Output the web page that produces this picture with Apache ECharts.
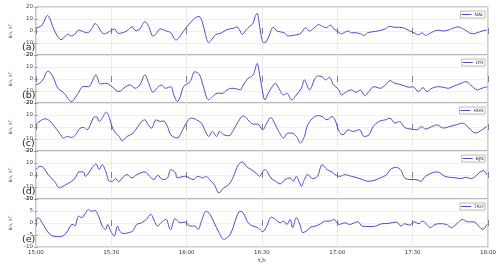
<!DOCTYPE html>
<html><head><meta charset="utf-8">
<script src="https://cdn.jsdelivr.net/npm/echarts@6/dist/echarts.min.js"></script>
<style>html,body{margin:0;padding:0;background:#fff}#c{width:500px;height:266px}</style>
</head><body><div id="c"></div>
<script>
// time in minutes after 15:00 (UT), Bn in nT
const stations = ['NAL','LYR','HOR','BJN','TRO'];
const panelTags = ['(a)','(b)','(c)','(d)','(e)'];
const xTickLabels = ['15:00','15:30','16:00','16:30','17:00','17:30','18:00'];
const yRanges = [[-20,20,10],[-20,20,10],[-20,20,10],[-20,20,10],[-10,10,5]];

const tNAL = [0,2.3,4.6,7.2,8.7,10,11.6,12.8,14.1,15.4,17.1,19,20.5,22.2,23.5,24.8,26,27.3,29.3,31.2,32.9,34.4,36.3,38.3,39.8,41.4,43.4,44.9,46.6,47.9,49.5,51.7,53.7,55.8,57,58.8,61.4,63.3,64.9,66.3,67.5,68.8,70.1,71.6,72.9,74.2,76.1,78.7,80,81.3,82.2,83.4,85.1,86.4,87.3,88.1,88.7,89.6,90.6,91.7,92.8,94.5,96,97.3,98.8,100.5,102.2,104.4,105.7,107.3,108.9,110.8,112.5,114,115.6,117.2,118.7,120.4,121.7,123,124.3,125.6,127.5,129.2,130.7,132,133.9,136.5,139.1,141,142.9,144.8,146.8,148.7,150.6,152.3,153.8,155.1,156.6,158.3,160.2,162.2,164.1,166,168,169.9,171.8,173.7,175.7,177.6,179.5];
const bNAL = [2.6,4.5,12.9,1.2,-4.8,-7.2,-4.7,-2.6,-4.2,-2.8,0.7,-0.7,-1.5,1.9,6.1,3.9,-0.7,-2.3,-0.4,1.7,-2,-1.5,0.2,3.4,0.2,1.7,7.8,3.9,-4.2,-2.3,1.7,0.2,-1.5,-7.5,-5.6,-0.1,6.7,10.8,12.1,7.2,-2.9,-9.6,-6.9,-2.9,-2.3,-1.2,1.2,2.3,3.4,0,-2.9,0,3.9,6.1,12.1,14.8,9.4,-2.9,-9.6,-9,-4.2,3.1,0,-0.7,-1.5,-4.2,-3.7,-2.9,-1.5,2.6,0,2.6,5.3,4,2.6,5,1.7,-0.7,-2.3,-1,0,-1.5,-1.5,-2.3,-3.7,-1.5,-0.7,0.2,1.7,3.9,3.1,3.1,2.3,0.2,-1.5,-3.1,-1.5,-3.7,-2.3,-0.4,0.7,0,0.7,2.3,3.4,2,-0.4,-2.3,-1.5,0,0.7];

const tLYR = [0,2.3,4.9,6.8,8.7,11.3,14.1,16.4,19,20.9,23.9,25.7,27.9,29.9,33.1,35.7,37.6,39.5,41.4,43.4,45,46.6,48.5,49.8,51.7,53.7,54.9,56.4,57.5,58.8,61.4,63.3,65.2,66.5,68.8,70.3,72.3,74.2,76.1,78.1,80,81.3,82.6,84.5,85.8,86.8,88.1,89,89.9,91.2,92.2,93.7,95.4,96.7,98.6,99.9,101.8,103.7,105.7,106.9,108.2,108.9,109.8,110.8,112.1,114,115.3,116.8,118.5,120.4,121.7,123.7,125.6,127.5,129.2,130.9,132.6,134.6,137.1,139.1,141,142.9,144.8,146.8,148.7,150,152.3,154.1,155.7,157.7,160.3,162.8,164.1,166.6,169.2,171.2,173.1,175.7,177.6,179.8];
const bLYR = [-5,-2.2,6.6,1.9,-7.5,-11.9,-18.8,-13.3,-6.2,-6.4,3.3,-4.1,-3.6,-5.8,-10.5,-6.4,-5,-7.7,-5,3.3,-4,-11,-7,-5,-7.7,-6.4,-13.3,-18.8,-14.7,-6.4,-2.2,6.1,3.3,-5,-17.4,-14.7,-11.9,-11.9,-9.1,-7.7,-8.3,-9.1,-5,0.6,1.9,4.7,13,4.7,-6.4,-17.4,-13.3,-7.7,-3.6,-7.7,-13.3,-11.9,-17.4,-13.3,-7.7,-0.8,-6.4,-9.1,-6.4,-0.8,2.5,1.9,-0.8,1.4,-5,-8.3,-13.3,-10.5,-9.1,-11,-9.1,-13.9,-10.5,-6.4,-7.7,-5,-1.4,-3.6,-4.4,-5.8,-6.9,-6.4,-10.5,-7.2,-10.5,-7.7,-6.4,-7.2,-7.7,-5.8,-3.6,-2.2,-5,-9.1,-7.7,-6.4];

const tHOR = [0,1.7,3.6,5.5,7.4,9.4,11,12.6,14.1,15.8,17.7,19,20.3,21.8,22.8,24.1,25.2,26.4,28,29.3,30.5,31.8,33.1,34.4,36.3,38.2,40.2,42.1,43.4,44.7,46,47.9,49.5,50.8,52.4,53.7,56.2,58.8,60.7,62,63.9,65.9,67.5,68.8,70.3,71.9,73.2,74.8,76.8,78.7,80.6,82.5,84.5,86.4,88.3,90.3,91.9,93.5,95,96.7,98.6,100.2,101.8,103.7,105.3,106.9,108.2,110.2,112.1,114,115.9,117.9,119.1,120.7,122.3,124.3,126.2,128.8,130.7,132.6,134.3,136.5,139.1,141,142.9,144.8,146.8,149.3,151.9,153.5,155.1,157.7,159.6,162.2,164.7,167.3,169.9,172.4,175,177.6,179.5];
const bHOR = [1.8,5.1,6.8,5.1,0.4,-5.1,-9.2,-7.9,-8.7,-6.5,-0.9,-0.4,-2.3,2.4,7.4,8.7,4.6,7.4,12.4,7.4,-0.9,-5.1,-7.9,-11.5,-7.9,-5.9,-0.9,4.6,6,1.8,-0.9,6,4.6,5.1,0.4,-6.5,-9.2,-0.9,6,7.4,6,3.2,-3.7,-7.9,-3.7,-7.9,-3.7,-6.5,-7.3,-2.3,4.6,9.3,6,2.4,2.4,-2.3,3.2,7.9,3.2,-3.7,-9.2,-5.1,-5.1,-7.9,-13.4,-7.9,1.8,7.4,9.5,8.7,6,8.7,6,-3.7,-6.5,-2.3,-3.7,-2.3,-7.9,-6.5,0.4,4.6,6,7.4,3.2,4.6,-0.4,-1.7,-2.3,0.4,-1.7,0.4,1.8,-0.9,0.4,1.8,3.2,-0.9,-5.1,-2.3,0.4];

const tBJN = [0,1.7,2.9,4.9,7.4,9.4,11.3,13.2,15.1,16.4,17.1,19,19.6,22.8,23.9,25.2,26.4,27.7,29.3,30.5,31.8,32.9,34.4,36.3,38.2,40.2,43.4,45.3,47,48.5,50.5,52.4,53.7,55.6,56.2,59.5,62.6,64.6,66.5,67.8,69.1,71,72.9,74.8,76.8,78.7,80.6,82.2,83.8,85.7,87.7,89,91.1,92.2,93.5,95.4,97.3,99.2,101.2,102.5,103.7,105,105.7,106.9,108.2,110.2,112.1,114,115.9,117.9,119.1,121.1,123,125.6,128.1,130,132,134.6,137.1,139.7,141,143.5,145.4,146.8,149.3,151.2,153.2,155.1,159.6,160.9,162.8,164.7,167.3,169.2,171.1,173.1,175,176.9,178.2,179.5];
const bBJN = [4.5,7.2,6.4,0.3,-5.2,-10.7,-8.8,-6.6,-3.8,0.3,2.6,2.6,-1.1,7.2,9.2,4.5,8.6,3.7,-5.2,-5.2,-3,-5.7,-2.4,0.3,-2.4,0.3,2.6,-1.1,-3.8,-0.2,-3.8,-2.4,4.5,1.7,-2.4,-1,-3.8,-1.1,-2.4,-1.1,-3.8,-8,-14.9,-10.7,-8,-1.1,8.6,10.9,7.2,4.5,1.5,-1.1,4.5,2.6,-2.4,-5.2,-7.4,-3.8,-2.4,-5.2,-1.1,-6.6,-9.4,-3.8,0.3,-3,-1.1,8.6,4.5,2.6,0.3,-1.1,0.3,-1.1,-2.4,-3.8,-5.2,-4.6,-2.4,0.3,4.5,6.4,3.7,-2.4,-3.8,-3.8,-5.2,-1.1,2.6,1.7,-1.1,-1.9,-2.4,-3,-1.9,-3,-1.1,2.6,3.7,0.3];

const tTRO = [0,0.8,1.7,3.6,5.5,6.8,9.4,11.3,12.6,13.9,14.9,15.5,17.1,18.3,19.6,20.9,22.2,23.5,25.2,26.4,27.7,28.6,29.5,31.2,32.5,33.4,35.1,37,38.5,40.2,42.1,44,45.7,47.2,48.5,49.8,51.7,53.6,55.4,57.5,59.4,61.4,63.3,64.6,65.9,67.8,69.3,71,72.9,74.8,76.1,77.4,78.7,80,81.3,82.5,84.5,86.4,88.3,90.3,91.9,93.7,95.4,97.3,98.6,99.9,101.2,102.2,103.7,105,106.3,107.6,109.5,111.4,113.4,115.3,117.2,118.5,120.8,123,124.9,126.8,128.1,130,132.6,135.2,137.8,140.3,143.5,145.4,146.8,148.7,150.6,152.5,153.8,155.7,157,158.9,160.9,163.4,165.4,167.3,169.9,171.8,174.3,176.3,178,179.5];
const bTRO = [0.8,2.2,1.5,-1.9,-4.7,-5.4,-5.7,-5,-3.4,-0.9,-0.6,-1.3,2.9,2.2,3.9,5.6,4.9,5.2,2.2,-1.3,-2.7,-0.6,-2.7,-5.4,-1.3,-3.4,-4.4,-4,-3.4,-0.6,0.1,1.5,3.6,0.8,-1.3,0.1,1.5,-2.8,1.8,0.1,0.4,-1.3,-1.3,-2.7,0.8,4.9,3.6,0.1,-4,-6.8,-6.1,-4.7,-1.3,2.9,4.9,4.3,0.1,-1.3,-1.9,-3.6,-1.3,2.4,1.5,0.1,0.8,-0.6,1.5,-1.9,2.2,-0.3,-4,-3.4,-1.7,-1.3,-0.3,0.8,0.8,1.5,-0.6,0.1,-0.6,0.1,0.5,-1.3,-1.5,-1.3,-0.3,-0.2,0.4,-1.3,-0.3,-0.9,0.4,-0.3,0.8,-0.6,-1.9,-0.6,-0.3,-0.6,-1.9,-0.6,1.5,0.5,0.5,-1.3,-2.7,-0.6];

const times = [tNAL,tLYR,tHOR,tBJN,tTRO];
const values = [bNAL,bLYR,bHOR,bBJN,bTRO];

const FONT = 'DejaVu Sans';
const tops = [7,55,103,151,199], H = 48, L = 21, R = 12;
const lineColor = '#4b4bd0';

const grid = [], xAxis = [], yAxis = [], series = [], legend = [], graphic = [];
const xTop = [], yRight = [];
tops.forEach((top,i)=>{
  grid.push({left:L,right:R,top:top,height:H,show:true,borderColor:'#a0a0a0',borderWidth:1,backgroundColor:'#fff'});
  xAxis.push({gridIndex:i,type:'value',min:0,max:180,interval:30,position:'bottom',
    axisLine:{show:false},
    axisTick:{show:true,inside:true,length:3,lineStyle:{color:'#666',width:0.8}},
    axisLabel:{show:i===4,fontSize:5.5,color:'#333',fontFamily:FONT,margin:3,
      formatter:v=>xTickLabels[Math.round(v/30)]},
    splitLine:{show:true,lineStyle:{color:'#e6e6e6',width:0.8}},
    name:i===4?'t,h':'',nameLocation:'middle',nameGap:11,
    nameTextStyle:{fontSize:5.5,color:'#333',fontFamily:FONT}});
  xTop.push({gridIndex:i,type:'value',min:0,max:180,interval:30,position:'top',
    axisLine:{show:false},
    axisTick:{show:true,inside:true,length:3,lineStyle:{color:'#666',width:0.8}},
    axisLabel:{show:false},splitLine:{show:false}});
  const [mn,mx,iv] = yRanges[i];
  yAxis.push({gridIndex:i,type:'value',min:mn,max:mx,interval:iv,position:'left',
    axisLine:{show:false},
    axisTick:{show:true,inside:true,length:2,lineStyle:{color:'#888',width:0.6}},
    axisLabel:{fontSize:5.5,color:'#444',fontFamily:FONT,margin:3},
    splitLine:{show:true,lineStyle:{color:'#ececec',width:0.8}},
    name:'Bn, nT',nameLocation:'middle',nameGap:13,nameRotate:90,
    nameTextStyle:{fontSize:4.5,color:'#444',fontFamily:FONT}});
  yRight.push({gridIndex:i,type:'value',min:mn,max:mx,interval:iv,position:'right',
    axisLine:{show:false},
    axisTick:{show:true,inside:true,length:2,lineStyle:{color:'#888',width:0.6}},
    axisLabel:{show:false},splitLine:{show:false}});
  series.push({name:stations[i],type:'line',xAxisIndex:i,yAxisIndex:i,
    data:times[i].map((t,k)=>[t,values[i][k]]),
    smooth:0.35,symbol:'none',lineStyle:{color:lineColor,width:1},itemStyle:{color:lineColor}});
  legend.push({data:[stations[i]],top:top+4,right:15,orient:'horizontal',
    icon:'rect',itemWidth:10,itemHeight:1,itemGap:1,padding:[1,1.5,1,1],
    borderColor:'#777',borderWidth:0.5,backgroundColor:'#fff',
    textStyle:{fontSize:4.5,color:'#333',fontFamily:FONT,padding:[0,0,0,-2]}});
  graphic.push({type:'text',left:22,top:top+36,
    style:{text:panelTags[i],fontSize:9.5,fill:'#222',fontFamily:FONT}});
});

const chart = echarts.init(document.getElementById('c'),null,{renderer:'canvas'});
chart.setOption({
  backgroundColor:'#fff',
  animation:false,
  grid:grid,
  xAxis:xAxis.concat(xTop),
  yAxis:yAxis.concat(yRight),
  legend:legend,
  series:series,
  graphic:graphic
});
</script></body></html>
